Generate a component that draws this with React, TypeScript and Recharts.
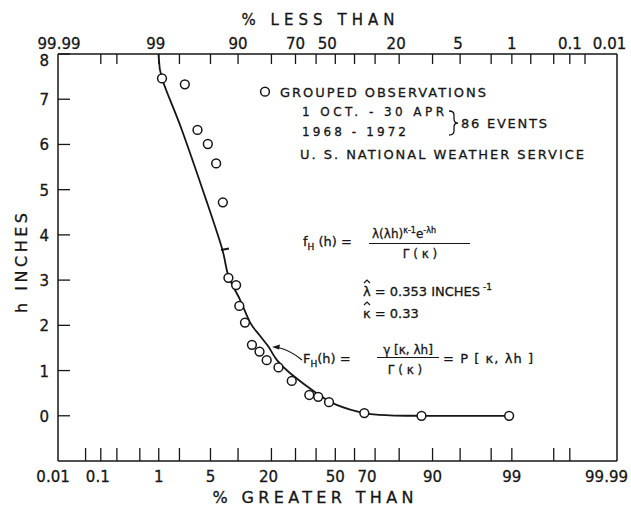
import { ComposedChart, Line, Scatter, XAxis, YAxis, ReferenceLine } from "recharts";

// % greater than (bottom scale) and depth h for the grouped observations
const OBS_PCT = [1.12, 2.37, 3.47, 4.65, 5.82, 6.92, 7.95, 9.56, 10.3, 11.7, 13.6, 15.9, 18.3, 22.7, 28.3, 36.6, 41.1, 46.7, 64.9, 87.2, 98.9];
const OBS_H = [7.46, 7.33, 6.32, 6.01, 5.58, 4.72, 3.05, 2.89, 2.43, 2.06, 1.57, 1.42, 1.23, 1.07, 0.77, 0.46, 0.42, 0.3, 0.06, 0, 0];

// fitted gamma curve
const CURVE_PCT = [0.99, 1.12, 2.16, 4.52, 6.8, 7.95, 10.5, 13.1, 15.8, 18.9, 22.1, 27.6, 40.3, 50.7, 64.9, 76.4, 87.2, 98.9];
const CURVE_H = [8.0, 7.46, 6.32, 4.73, 3.69, 3.09, 2.56, 2.06, 1.79, 1.53, 1.23, 0.94, 0.5, 0.24, 0.06, 0.01, 0, 0];

// probability paper ticks
const BOTTOM_TICK_PCT = [0.05, 0.1, 0.2, 0.5, 1, 2, 5, 10, 20, 30, 40, 50, 60, 70, 80, 90, 95, 98, 99, 99.8, 99.9];
const BOTTOM_LABEL_PCT = [0.01, 0.1, 1, 5, 20, 50, 70, 90, 99, 99.99];
const BOTTOM_LABELS = ["0.01", "0.1", "1", "5", "20", "50", "70", "90", "99", "99.99"];
// top ticks, given as % greater than; labels are % less than
const TOP_TICK_PCT = [0.1, 0.2, 1, 2, 5, 10, 20, 30, 40, 50, 60, 70, 80, 90, 95, 98, 99, 99.5, 99.8, 99.9, 99.95];
const TOP_LABEL_PCT = [0.01, 1, 10, 30, 50, 80, 95, 99, 99.9, 99.99];
const TOP_LABELS = ["99.99", "99", "90", "70", "50", "20", "5", "1", "0.1", "0.01"];
const Y_TICKS = [0, 1, 2, 3, 4, 5, 6, 7, 8];

const Z_MIN = -3.654;
const Z_MAX = 3.712;
const INK = "#161616";
const FONT = "'DejaVu Sans', sans-serif";

// small hand-lettering nudges
const BOTTOM_NUDGE: Record<string, number> = { "0.1": -3, "20": -3, "70": -8, "99.99": -11 };
const TOP_NUDGE: Record<string, number> = { "99.99": 6, "99": -3, "50": -8, "20": -3, "5": -2, "0.01": -8 };

function probit(p: number) {
  const a = [-39.69683028665376, 220.9460984245205, -275.9285104469687, 138.357751867269, -30.66479806614716, 2.506628277459239];
  const b = [-54.47609879822406, 161.5858368580409, -155.6989798598866, 66.80131188771972, -13.28068155288572];
  const c = [-0.007784894002430293, -0.3223964580411365, -2.400758277161838, -2.549732539343734, 4.374664141464968, 2.938163982698783];
  const d = [0.007784695709041462, 0.3224671290700398, 2.445134137142996, 3.754408661907416];
  const pl = 0.02425;
  if (p < pl) {
    const q = Math.sqrt(-2 * Math.log(p));
    return (((((c[0] * q + c[1]) * q + c[2]) * q + c[3]) * q + c[4]) * q + c[5]) / ((((d[0] * q + d[1]) * q + d[2]) * q + d[3]) * q + 1);
  }
  if (p <= 1 - pl) {
    const q = p - 0.5;
    const r = q * q;
    return ((((((a[0] * r + a[1]) * r + a[2]) * r + a[3]) * r + a[4]) * r + a[5]) * q) / (((((b[0] * r + b[1]) * r + b[2]) * r + b[3]) * r + b[4]) * r + 1);
  }
  const q = Math.sqrt(-2 * Math.log(1 - p));
  return -(((((c[0] * q + c[1]) * q + c[2]) * q + c[3]) * q + c[4]) * q + c[5]) / ((((d[0] * q + d[1]) * q + d[2]) * q + d[3]) * q + 1);
}

const z = (pct: number) => probit(pct / 100);

const obsData = OBS_PCT.map((p, i) => ({ z: z(p), h: OBS_H[i] }));
const curveData = CURVE_PCT.map((p, i) => ({ z: z(p), h: CURVE_H[i] }));

// Catmull-Rom through the read points, so the steep part doesn't wiggle
function smoothCurve(context: any) {
  let pts: number[][] = [];
  return {
    areaStart() {},
    areaEnd() {},
    lineStart() {
      pts = [];
    },
    point(x: number, y: number) {
      pts.push([+x, +y]);
    },
    lineEnd() {
      if (!pts.length) return;
      context.moveTo(pts[0][0], pts[0][1]);
      for (let i = 0; i < pts.length - 1; i++) {
        const p0 = pts[i - 1] || pts[i];
        const p1 = pts[i];
        const p2 = pts[i + 1];
        const p3 = pts[i + 2] || p2;
        context.bezierCurveTo(
          p1[0] + (p2[0] - p0[0]) / 6,
          p1[1] + (p2[1] - p0[1]) / 6,
          p2[0] - (p3[0] - p1[0]) / 6,
          p2[1] - (p3[1] - p1[1]) / 6,
          p2[0],
          p2[1]
        );
      }
    },
  };
}

type TickInfo = { z: number; mark: boolean; label?: string };

function buildTicks(markPct: number[], labelPct: number[], labels: string[]): TickInfo[] {
  const out: TickInfo[] = markPct.map((p) => ({ z: z(p), mark: true }));
  labelPct.forEach((p, i) => {
    const zz = z(p);
    const found = out.find((t) => Math.abs(t.z - zz) < 1e-6);
    if (found) found.label = labels[i];
    else out.push({ z: zz, mark: false, label: labels[i] });
  });
  return out.sort((u, v) => u.z - v.z);
}

const bottomTicks = buildTicks(BOTTOM_TICK_PCT, BOTTOM_LABEL_PCT, BOTTOM_LABELS);
const topTicks = buildTicks(TOP_TICK_PCT, TOP_LABEL_PCT, TOP_LABELS);

function findTick(list: TickInfo[], v: number) {
  return list.reduce((best, t) => (Math.abs(t.z - v) < Math.abs(best.z - v) ? t : best), list[0]);
}

function BottomTick(props: any) {
  const { x, y, payload } = props;
  const t = findTick(bottomTicks, payload.value);
  const dx = t.label ? BOTTOM_NUDGE[t.label] ?? 0 : 0;
  return (
    <g>
      {t.mark && <line x1={x} x2={x} y1={y} y2={y - 13} stroke={INK} strokeWidth={1.3} />}
      {t.label && (
        <text x={x + dx} y={y + 21} textAnchor="middle" fontSize={15} fontFamily={FONT} fill={INK}>
          {t.label}
        </text>
      )}
    </g>
  );
}

function TopTick(props: any) {
  const { x, y, payload } = props;
  const t = findTick(topTicks, payload.value);
  const dx = t.label ? TOP_NUDGE[t.label] ?? 0 : 0;
  return (
    <g>
      {t.mark && <line x1={x} x2={x} y1={y} y2={y + 10} stroke={INK} strokeWidth={1.3} />}
      {t.label && (
        <text x={x + dx} y={y - 5} textAnchor="middle" fontSize={15} fontFamily={FONT} fill={INK}>
          {t.label}
        </text>
      )}
    </g>
  );
}

function LeftTick(props: any) {
  const { x, y, payload } = props;
  const dy = payload.value === 8 ? 6 : 0;
  return (
    <g>
      <line x1={x} x2={x + 12} y1={y} y2={y} stroke={INK} strokeWidth={1.3} />
      <text x={x - 9} y={y + 6 + dy} textAnchor="end" fontSize={15} fontFamily={FONT} fill={INK}>
        {payload.value}
      </text>
    </g>
  );
}

function Ring(props: any) {
  const { cx, cy } = props;
  return <circle cx={cx} cy={cy} r={4.4} fill="#fff" stroke={INK} strokeWidth={1.5} />;
}

function Notes() {
  return (
    <svg width={631} height={509} style={{ position: "absolute", left: 0, top: 0, pointerEvents: "none" }} fontFamily={FONT} fill={INK}>
      <text x={318} y={25} textAnchor="middle" fontSize={15} textLength={153} lengthAdjust="spacing">% LESS THAN</text>
      <text x={313} y={503} textAnchor="middle" fontSize={16} textLength={201} lengthAdjust="spacing">% GREATER THAN</text>
      <text x={27} y={263} textAnchor="middle" fontSize={16} textLength={100} lengthAdjust="spacing" transform="rotate(-90 27 263)">h INCHES</text>

      <circle cx={265} cy={91.7} r={4.4} fill="#fff" stroke={INK} strokeWidth={1.5} />
      <text x={280} y={96.5} fontSize={13} textLength={206} lengthAdjust="spacing">GROUPED OBSERVATIONS</text>
      <text x={302} y={116} fontSize={12} textLength={142} lengthAdjust="spacing">1 OCT. - 30 APR</text>
      <text x={302} y={135.5} fontSize={12} textLength={104} lengthAdjust="spacing">1968 - 1972</text>
      <path d="M449,111 q5,0 5,4 v4 q0,4 4,4 q-4,0 -4,4 v4 q0,4 -5,4" fill="none" stroke={INK} strokeWidth={1.3} />
      <text x={461} y={128} fontSize={13} textLength={86} lengthAdjust="spacing">86 EVENTS</text>
      <text x={300} y={159} fontSize={13} textLength={284} lengthAdjust="spacing">U. S. NATIONAL WEATHER SERVICE</text>

      <text x={303} y={246} fontSize={13}>
        f<tspan fontSize={9} dy={4}>H</tspan>
        <tspan dy={-4}> (h) =</tspan>
      </text>
      <text x={372} y={238} fontSize={12}>
        λ(λh)<tspan fontSize={8} dy={-5}>κ-1</tspan>
        <tspan dy={5}>e</tspan>
        <tspan fontSize={8} dy={-5}>-λh</tspan>
      </text>
      <line x1={369} x2={470} y1={243.5} y2={243.5} stroke={INK} strokeWidth={1.2} />
      <text x={420} y={258} textAnchor="middle" fontSize={12}>Γ ( κ )</text>

      <path d="M364,283 L367,280 L370,283" fill="none" stroke={INK} strokeWidth={1.2} />
      <text x={363} y={296} fontSize={13}>
        λ = 0.353 INCHES<tspan fontSize={9} dy={-6}> -1</tspan>
      </text>
      <path d="M364,305 L367,302 L370,305" fill="none" stroke={INK} strokeWidth={1.2} />
      <text x={363} y={318} fontSize={13}>κ = 0.33</text>

      <text x={303} y={363} fontSize={13}>
        F<tspan fontSize={9} dy={4}>H</tspan>
        <tspan dy={-4}>(h) =</tspan>
      </text>
      <text x={408} y={354} textAnchor="middle" fontSize={12}>γ [κ, λh]</text>
      <line x1={377} x2={439} y1={357.5} y2={357.5} stroke={INK} strokeWidth={1.2} />
      <text x={405} y={374} textAnchor="middle" fontSize={12}>Γ ( κ )</text>
      <text x={443} y={363} fontSize={13} textLength={90} lengthAdjust="spacing">= P [ κ, λh ]</text>

      <path d="M302,360 Q290,350 278,347.5" fill="none" stroke={INK} strokeWidth={1.2} />
      <path d="M272,347 L280,344.5 L279,349.5 Z" fill={INK} />
      <line x1={221} x2={229} y1={250} y2={248.5} stroke={INK} strokeWidth={2.2} />
    </svg>
  );
}

export default function App() {
  return (
    <div style={{ position: "relative", width: 631, height: 509, background: "#fff" }}>
      <style>{"body{margin:0;} svg text{stroke:#161616;stroke-width:0.3px;}"}</style>
      <ComposedChart width={631} height={509} margin={{ top: 0, right: 14, bottom: 0, left: 0 }}>
        <XAxis
          xAxisId="bottom"
          dataKey="z"
          type="number"
          orientation="bottom"
          domain={[Z_MIN, Z_MAX]}
          ticks={bottomTicks.map((t) => t.z)}
          interval={0}
          height={48}
          tickSize={0}
          tickMargin={0}
          tickLine={false}
          tick={<BottomTick />}
          axisLine={{ stroke: INK, strokeWidth: 1.5 }}
          allowDataOverflow
        />
        <XAxis
          xAxisId="top"
          dataKey="z"
          type="number"
          orientation="top"
          domain={[Z_MIN, Z_MAX]}
          ticks={topTicks.map((t) => t.z)}
          interval={0}
          height={54}
          tickSize={0}
          tickMargin={0}
          tickLine={false}
          tick={<TopTick />}
          axisLine={{ stroke: INK, strokeWidth: 1.5 }}
          allowDataOverflow
        />
        <YAxis
          dataKey="h"
          type="number"
          domain={[-1, 8]}
          ticks={Y_TICKS}
          interval={0}
          width={58}
          tickSize={0}
          tickMargin={0}
          tickLine={false}
          tick={<LeftTick />}
          axisLine={{ stroke: INK, strokeWidth: 1.5 }}
          allowDataOverflow
        />
        <ReferenceLine xAxisId="bottom" x={Z_MAX} stroke={INK} strokeWidth={1.5} ifOverflow="visible" />
        <Line
          xAxisId="bottom"
          data={curveData}
          dataKey="h"
          type={smoothCurve as any}
          stroke={INK}
          strokeWidth={1.8}
          dot={false}
          isAnimationActive={false}
        />
        <Line
          xAxisId="top"
          data={curveData}
          dataKey="h"
          stroke="none"
          dot={false}
          isAnimationActive={false}
        />
        <Scatter xAxisId="bottom" data={obsData} dataKey="h" shape={<Ring />} isAnimationActive={false} />
      </ComposedChart>
      <Notes />
    </div>
  );
}
